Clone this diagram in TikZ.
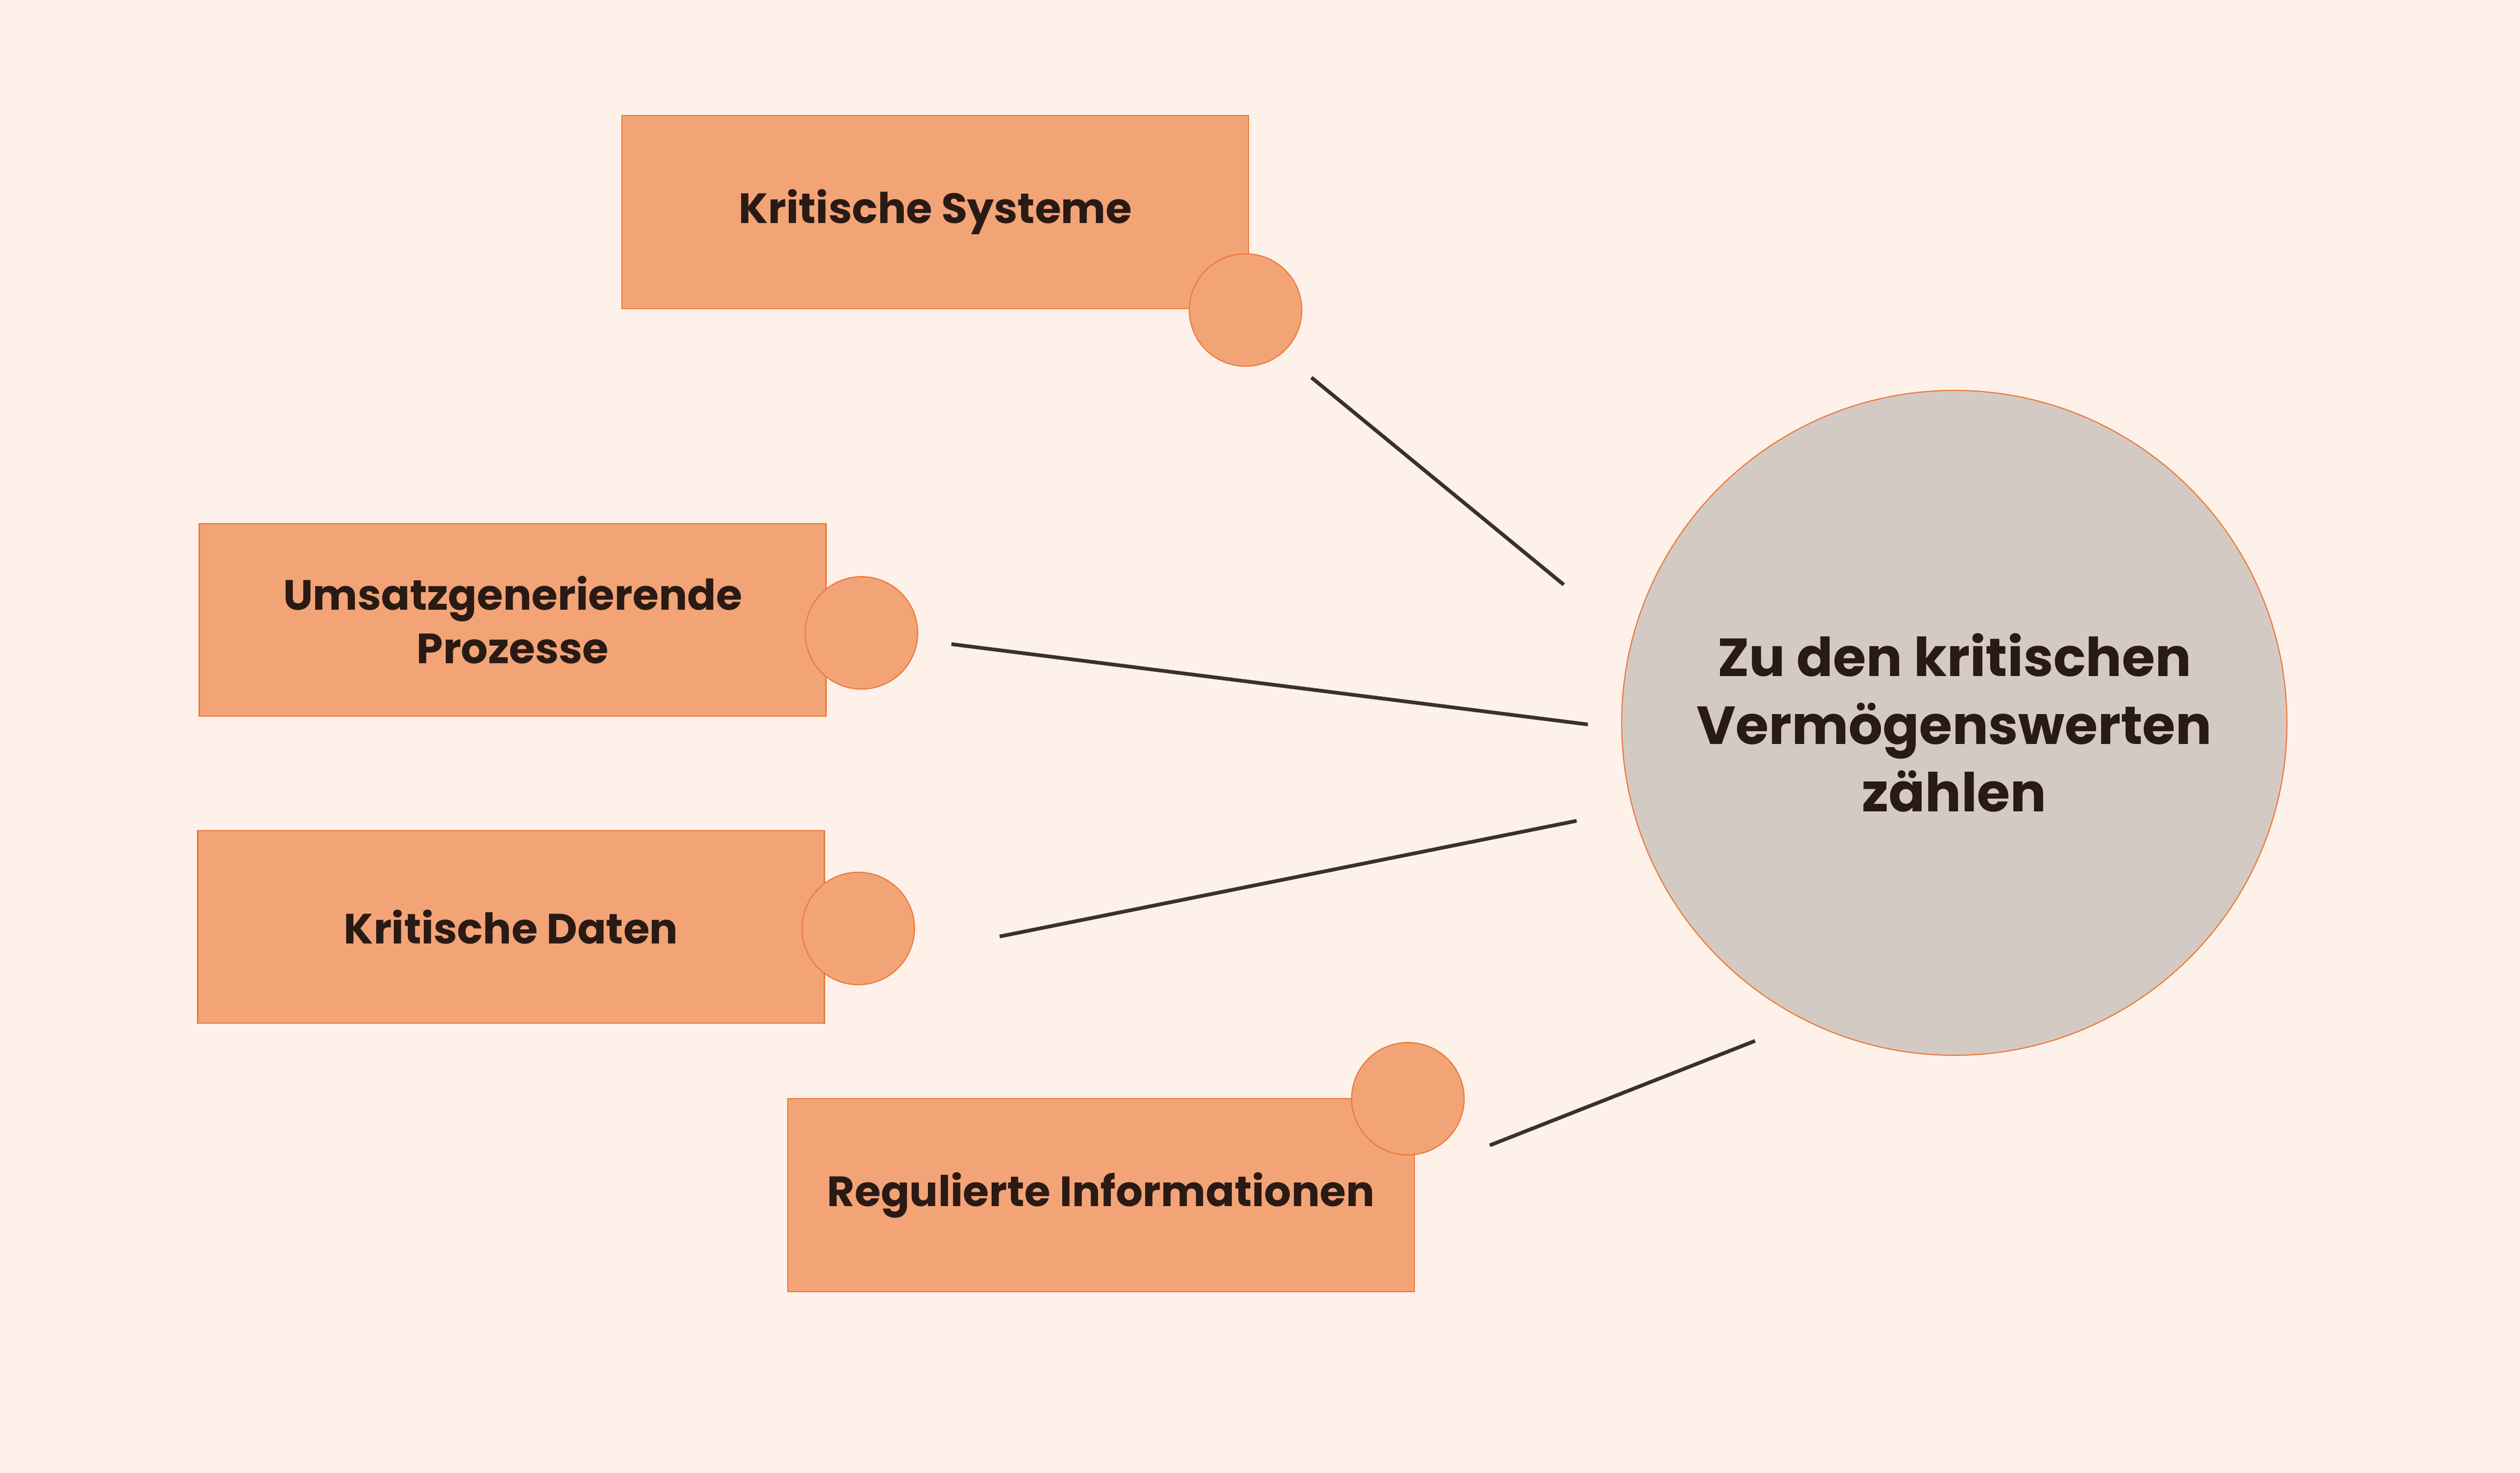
\documentclass[tikz,border=0pt]{standalone}
\usepackage{fontspec}
\setmainfont{Poppins}
\usetikzlibrary{positioning}
\definecolor{bgcol}{HTML}{FDF1EA}
\definecolor{boxfill}{HTML}{F2A477}
\definecolor{boxline}{HTML}{EC7A3A}
\definecolor{hubfill}{HTML}{D4CAC4}
\definecolor{ink}{HTML}{2A1A14}
\definecolor{wire}{HTML}{3A302C}
\begin{document}
\begin{tikzpicture}[x=0.02cm,y=-0.02cm,
  asset/.style={rectangle, draw=boxline, fill=boxfill, minimum width=7.8cm, minimum height=2.4cm, align=center, text=ink, font=\fontsize{15}{19}\selectfont\bfseries},
  knob/.style={circle, draw=boxline, fill=boxfill, minimum size=1.4cm, inner sep=0pt},
  hub/.style={circle, draw=boxline, fill=hubfill, minimum size=8.28cm, align=center, text=ink, font=\fontsize{19}{24}\selectfont\bfseries},
  link/.style={draw=wire, line width=1.3pt}]
  \fill[bgcol] (0,0) rectangle (1568,917);
  \useasboundingbox (0,0) rectangle (1568,917);
  \node[hub] (hub) at (1216,450) {Zu den kritischen\\Vermögenswerten\\zählen};
  \node[asset] (sys) at (582,132) {Kritische Systeme};
  \node[knob] (sysk) at (775,193) {};
  \node[asset] (proc) at (319,386) {Umsatzgenerierende\\Prozesse};
  \node[knob] (prock) at (536,394) {};
  \node[asset] (data) at (318,577) {Kritische Daten};
  \node[knob] (datak) at (534,578) {};
  \node[asset] (info) at (685,744) {Regulierte Informationen};
  \node[knob] (infok) at (876,684) {};
  % connectors
  \coordinate (s1) at (816,235); \coordinate (e1) at (973,364);
  \coordinate (s2) at (592,401); \coordinate (e2) at (988,451);
  \coordinate (s3) at (622,583); \coordinate (e3) at (981,511);
  \coordinate (s4) at (927,713); \coordinate (e4) at (1092,648);
  \draw[link] (s1) -- (e1);
  \draw[link] (s2) -- (e2);
  \draw[link] (s3) -- (e3);
  \draw[link] (s4) -- (e4);
\end{tikzpicture}
\end{document}
